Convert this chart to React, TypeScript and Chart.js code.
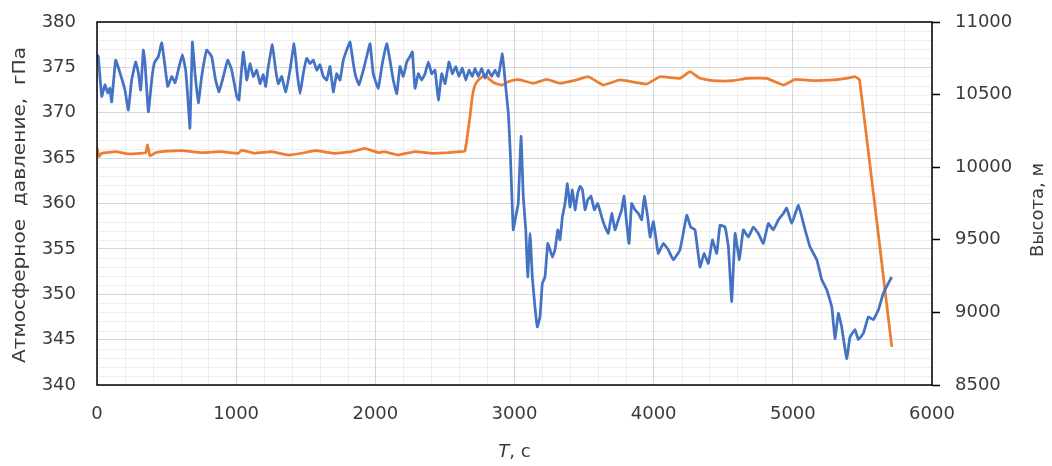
import React, { useEffect, useRef } from "react";
import { Chart, registerables } from "chart.js";

Chart.register(...registerables);

// ---- Data ----
const pressureTime = [
  0, 9, 34, 57, 77, 93, 105, 134, 165, 201, 225, 249, 278, 297, 314, 333, 345, 369, 393, 412,
  441, 465, 489, 508, 537, 561, 584, 613, 637, 652, 668, 685, 704, 728, 752, 788, 824, 852, 877, 908,
  939, 968, 1004, 1020, 1051, 1076, 1099, 1123, 1148, 1171, 1195, 1212, 1231, 1260, 1284, 1303, 1327, 1356, 1387, 1416,
  1439, 1459, 1482, 1507, 1531, 1554, 1579, 1602, 1626, 1651, 1674, 1698, 1722, 1746, 1770, 1794, 1818, 1842, 1859, 1883,
  1914, 1938, 1962, 1985, 2021, 2050, 2082, 2105, 2129, 2154, 2177, 2201, 2226, 2249, 2266, 2285, 2309, 2333, 2357, 2381,
  2405, 2429, 2453, 2477, 2501, 2529, 2553, 2578, 2601, 2625, 2650, 2673, 2697, 2716, 2740, 2764, 2788, 2812, 2836, 2860,
  2884, 2913, 2932, 2956, 2970, 2991, 3008, 3027, 3047, 3063, 3081, 3095, 3112, 3128, 3147, 3164, 3183, 3200, 3219, 3239,
  3255, 3272, 3291, 3311, 3327, 3344, 3363, 3380, 3399, 3416, 3435, 3454, 3471, 3488, 3507, 3526, 3550, 3574, 3598, 3627,
  3651, 3674, 3699, 3722, 3746, 3770, 3787, 3806, 3823, 3842, 3866, 3890, 3914, 3933, 3957, 3974, 3998, 4033, 4069, 4105,
  4141, 4189, 4238, 4266, 4297, 4333, 4362, 4393, 4422, 4453, 4477, 4513, 4537, 4561, 4585, 4616, 4644, 4680, 4716, 4752,
  4788, 4824, 4860, 4896, 4932, 4956, 4992, 5040, 5088, 5124, 5172, 5208, 5244, 5280, 5303, 5327, 5351, 5387, 5411, 5447,
  5471, 5507, 5543, 5579, 5615, 5650, 5686, 5711,
];
const pressureHPa = [
  376.4, 376.2, 371.8, 373.1, 372.2, 372.7, 371.2, 375.8, 374.4, 372.5, 370.3, 373.6, 375.6, 374.4, 372.5, 376.9, 375.5, 370.1, 373.6, 375.5,
  376.2, 377.7, 375.1, 372.9, 374.0, 373.3, 374.7, 376.4, 374.7, 371.8, 368.3, 377.8, 374.4, 371.1, 374.0, 376.9, 376.2, 373.6, 372.3, 374.0,
  375.8, 374.7, 371.8, 371.4, 376.7, 373.6, 375.4, 374.0, 374.7, 373.2, 374.2, 372.9, 375.1, 377.5, 374.7, 373.2, 374.0, 372.3, 374.7, 377.6,
  374.3, 372.1, 374.3, 376.0, 375.4, 375.8, 374.7, 375.3, 374.0, 373.6, 375.1, 372.3, 374.3, 373.6, 375.8, 376.9, 377.8, 375.4, 374.0, 373.1,
  374.7, 376.2, 377.6, 374.3, 372.7, 375.4, 377.6, 375.8, 373.6, 372.1, 375.1, 374.0, 375.6, 376.2, 376.7, 372.7, 374.3, 373.6, 374.3, 375.6,
  374.3, 374.7, 371.4, 374.3, 373.2, 375.6, 374.3, 375.1, 374.0, 374.9, 373.6, 374.7, 374.0, 374.9, 374.0, 374.9, 373.8, 374.7, 374.0, 374.7,
  374.0, 376.5, 373.6, 369.9, 365.5, 357.1, 358.5, 360.0, 367.4, 360.8, 357.1, 351.9, 356.7, 351.9, 348.6, 346.4, 347.5, 351.2, 351.9, 355.6,
  354.9, 354.1, 354.9, 357.1, 356.0, 358.5, 360.0, 362.2, 359.6, 361.5, 359.3, 361.1, 361.9, 361.5, 359.3, 360.4, 360.8, 359.3, 360.0, 358.5,
  357.4, 356.7, 358.9, 357.1, 358.2, 359.3, 360.8, 357.8, 355.6, 360.0, 359.3, 358.9, 358.2, 360.8, 358.5, 356.3, 358.0, 354.5, 355.6, 354.9,
  353.8, 354.9, 358.7, 357.4, 357.1, 353.0, 354.5, 353.4, 356.0, 354.5, 357.6, 357.4, 355.2, 349.2, 356.7, 353.8, 357.1, 356.3, 357.4, 356.7,
  355.6, 357.8, 357.1, 358.2, 358.9, 359.5, 357.8, 359.8, 357.1, 355.2, 353.8, 351.6, 350.5, 348.6, 345.1, 347.9, 346.4, 342.9, 345.3, 346.1,
  345.0, 345.7, 347.5, 347.2, 348.3, 350.1, 351.2, 351.9,
];

const altitudeTime = [
  0, 15, 34, 134, 225, 314, 350, 363, 381, 420, 465, 608, 752, 896, 1016, 1040, 1136, 1255, 1375, 1471,
  1567, 1710, 1830, 1926, 2022, 2062, 2165, 2285, 2405, 2525, 2610, 2644, 2680, 2697, 2716, 2740, 2788, 2824, 2860, 2908,
  2956, 3004, 3040, 3135, 3232, 3327, 3447, 3531, 3638, 3758, 3950, 4046, 4189, 4261, 4333, 4429, 4572, 4669, 4812, 4932,
  5016, 5147, 5291, 5387, 5447, 5480, 5711,
];
const altitudeM = [
  10135, 10075, 10096, 10107, 10091, 10096, 10100, 10153, 10077, 10100, 10107, 10114, 10100, 10107, 10096, 10118, 10096, 10107, 10084, 10096,
  10114, 10096, 10107, 10130, 10100, 10107, 10084, 10107, 10096, 10100, 10107, 10110, 10348, 10486, 10566, 10601, 10635, 10601, 10578, 10566,
  10589, 10601, 10601, 10578, 10605, 10578, 10601, 10623, 10566, 10601, 10573, 10623, 10612, 10658, 10612, 10596, 10596, 10612, 10612, 10566,
  10605, 10596, 10601, 10612, 10623, 10600, 8762,
];

// axis ranges / tick steps
const xRange = [0, 6000, 1000];
const pressureRange = [340, 380, 5];
const altitudeRange = [8500, 11000, 500];

const leftTitle = "Атмосферное  давление,  гПа";
const rightTitle = "Высота, м";
const xTitleItalic = "T";
const xTitleRest = ", с";

const FONT = "DejaVu Sans";
const TEXT = "#3a3a3a";

export default function App() {
  const ref = useRef<HTMLCanvasElement | null>(null);

  useEffect(() => {
    document.body.style.margin = "0";
    const canvas = ref.current;
    if (!canvas) return;

    const minorGrid = {
      id: "minorGrid",
      beforeDraw(chart: any) {
        const { ctx, chartArea, scales } = chart;
        ctx.save();
        ctx.strokeStyle = "#eeeeee";
        ctx.lineWidth = 1;
        ctx.beginPath();
        for (let v = xRange[0]; v <= xRange[1]; v += 200) {
          if (v % xRange[2] === 0) continue;
          const px = Math.round(scales.x.getPixelForValue(v)) + 0.5;
          ctx.moveTo(px, chartArea.top);
          ctx.lineTo(px, chartArea.bottom);
        }
        for (let v = pressureRange[0]; v <= pressureRange[1]; v += 1) {
          if (v % pressureRange[2] === 0) continue;
          const py = Math.round(scales.y.getPixelForValue(v)) + 0.5;
          ctx.moveTo(chartArea.left, py);
          ctx.lineTo(chartArea.right, py);
        }
        ctx.stroke();
        ctx.restore();
      },
    };

    const frameAndTitles = {
      id: "frameAndTitles",
      afterDraw(chart: any) {
        const { ctx, chartArea } = chart;
        ctx.save();
        ctx.strokeStyle = "#000";
        ctx.lineWidth = 1.5;
        ctx.strokeRect(chartArea.left, chartArea.top, chartArea.right - chartArea.left, chartArea.bottom - chartArea.top);

        ctx.fillStyle = TEXT;
        ctx.textAlign = "center";
        ctx.textBaseline = "middle";
        ctx.font = `18px "${FONT}"`;
        // left title, stretched to the length seen in the reference
        ctx.save();
        ctx.translate(20, 205);
        ctx.rotate(-Math.PI / 2);
        const lw = ctx.measureText(leftTitle).width;
        ctx.scale(316 / lw, 1);
        ctx.fillText(leftTitle, 0, 0);
        ctx.restore();
        // right title
        ctx.save();
        ctx.translate(1038, 210);
        ctx.rotate(-Math.PI / 2);
        ctx.fillText(rightTitle, 0, 0);
        ctx.restore();
        // x title with italic T
        const cx = (chartArea.left + chartArea.right) / 2;
        ctx.font = `italic 18px "${FONT}"`;
        const w1 = ctx.measureText(xTitleItalic).width;
        ctx.font = `18px "${FONT}"`;
        const w2 = ctx.measureText(xTitleRest).width;
        const start = cx - (w1 + w2) / 2;
        ctx.textAlign = "left";
        ctx.font = `italic 18px "${FONT}"`;
        ctx.fillText(xTitleItalic, start, 452);
        ctx.font = `18px "${FONT}"`;
        ctx.fillText(xTitleRest, start + w1, 452);
        ctx.restore();
      },
    };

    const chart = new Chart(canvas, {
      type: "line",
      data: {
        datasets: [
          {
            label: "Давление",
            data: pressureTime.map((t, i) => ({ x: t, y: pressureHPa[i] })),
            borderColor: "#4472C4",
            borderWidth: 2.75,
            pointRadius: 0,
            tension: 0.1,
            yAxisID: "y",
          },
          {
            label: "Высота",
            data: altitudeTime.map((t, i) => ({ x: t, y: altitudeM[i] })),
            borderColor: "#ED7D31",
            borderWidth: 2.75,
            pointRadius: 0,
            tension: 0.1,
            yAxisID: "y1",
          },
        ],
      },
      options: {
        animation: false,
        responsive: true,
        maintainAspectRatio: false,
        layout: { padding: { top: 22, left: 0, right: 0, bottom: 0 } },
        plugins: { legend: { display: false }, tooltip: { enabled: false } },
        scales: {
          x: {
            type: "linear",
            min: xRange[0],
            max: xRange[1],
            ticks: {
              stepSize: xRange[2],
              color: TEXT,
              font: { family: FONT, size: 18 },
              padding: 19,
              maxRotation: 0,
              callback: (v: any) => String(v),
            },
            grid: { color: "#d6d6d6", drawTicks: false, lineWidth: 1 },
            border: { display: false },
            afterFit: (s: any) => {
              s.height = 81;
              s.paddingLeft = 0;
              s.paddingRight = 0;
            },
          },
          y: {
            type: "linear",
            position: "left",
            min: pressureRange[0],
            max: pressureRange[1],
            ticks: {
              stepSize: pressureRange[2],
              color: TEXT,
              font: { family: FONT, size: 18 },
              padding: 21,
              callback: (v: any) => String(v),
            },
            grid: { color: "#d6d6d6", drawTicks: false, lineWidth: 1 },
            border: { display: false },
            afterFit: (s: any) => {
              s.width = 97;
              s.paddingTop = 0;
              s.paddingBottom = 0;
            },
          },
          y1: {
            type: "linear",
            position: "right",
            min: altitudeRange[0],
            max: altitudeRange[1],
            ticks: {
              stepSize: altitudeRange[2],
              color: TEXT,
              font: { family: FONT, size: 18 },
              padding: 15,
              callback: (v: any) => String(v),
            },
            grid: {
              drawOnChartArea: false,
              drawTicks: true,
              tickLength: 8,
              tickColor: "#000",
              tickWidth: 1.5,
            },
            border: { display: false },
            afterFit: (s: any) => {
              s.width = 120;
              s.paddingTop = 0;
              s.paddingBottom = 0;
            },
          },
        },
      },
      plugins: [minorGrid, frameAndTitles],
    });

    return () => chart.destroy();
  }, []);

  return (
    <div style={{ position: "absolute", left: 0, top: 0, width: 1052, height: 466, background: "#fff" }}>
      <canvas ref={ref} />
    </div>
  );
}
